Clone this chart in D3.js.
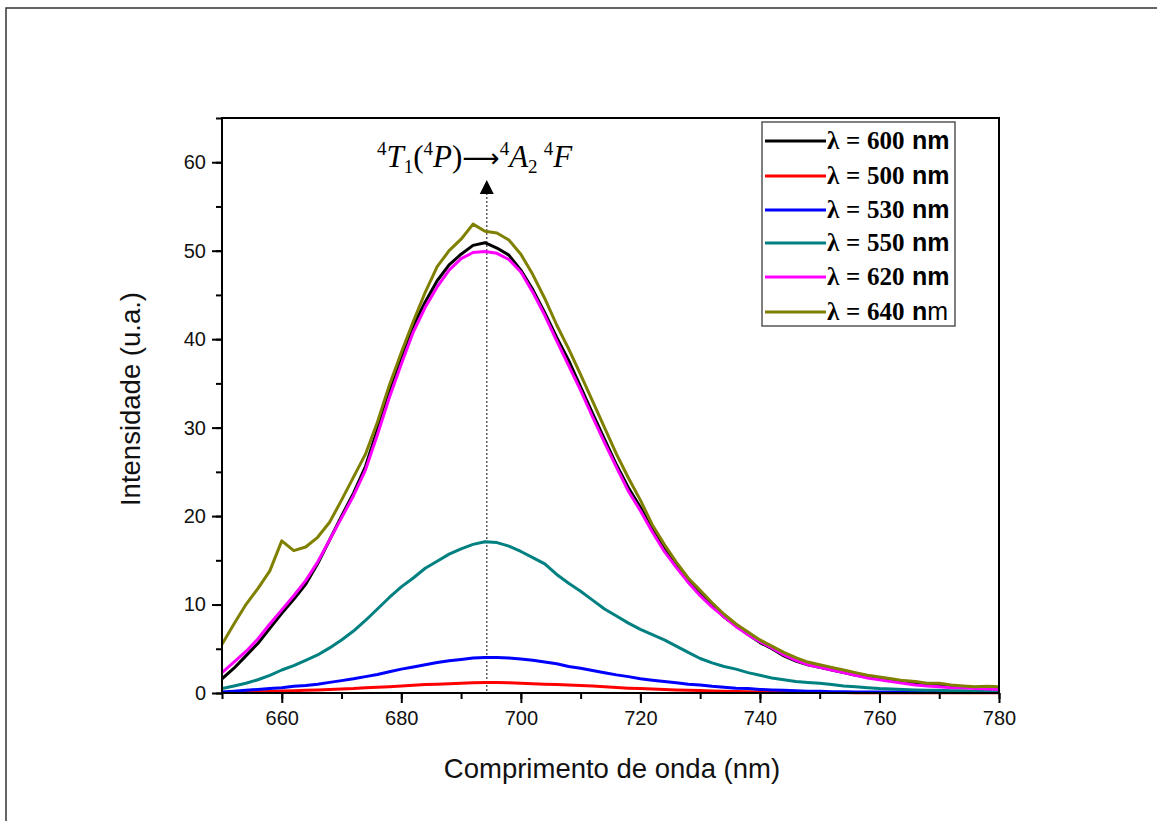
<!DOCTYPE html>
<html><head><meta charset="utf-8">
<script src="https://cdn.jsdelivr.net/npm/d3@7"></script>
<style>body{margin:0;background:#fff}svg{display:block}</style>
</head><body>
<svg id="c" width="1157" height="821"></svg>
<script>
const wavelengths = [650,652,654,656,658,660,662,664,666,668,670,672,674,676,678,680,682,684,686,688,690,692,694,696,698,700,702,704,706,708,710,712,714,716,718,720,722,724,726,728,730,732,734,736,738,740,742,744,746,748,750,752,754,756,758,760,762,764,766,768,770,772,774,776,778,780];

const s600 = [1.6,2.8,4.2,5.6,7.3,9.0,10.6,12.3,14.6,17.3,20.0,22.6,25.6,29.8,34.0,37.8,41.5,44.2,46.6,48.4,49.6,50.6,50.9,50.3,49.5,47.8,45.6,43.0,40.2,37.6,34.6,31.6,28.7,25.8,23.2,21.0,18.5,16.3,14.4,12.7,11.2,9.9,8.6,7.6,6.6,5.7,5.0,4.2,3.6,3.2,2.9,2.6,2.3,2.0,1.8,1.6,1.4,1.2,1.1,1.0,0.9,0.8,0.7,0.6,0.55,0.5];
const s500 = [0.05,0.1,0.12,0.15,0.18,0.22,0.26,0.3,0.35,0.4,0.45,0.5,0.58,0.65,0.72,0.8,0.88,0.95,1.0,1.05,1.1,1.15,1.18,1.2,1.15,1.1,1.05,1.0,0.95,0.9,0.85,0.78,0.7,0.62,0.55,0.5,0.45,0.4,0.35,0.3,0.27,0.24,0.2,0.17,0.14,0.12,0.1,0.09,0.08,0.07,0.06,0.05,0.05,0.04,0.04,0.03,0.03,0.03,0.03,0.02,0.02,0.02,0.02,0.02,0.02,0.02];
const s530 = [0.1,0.2,0.3,0.4,0.5,0.6,0.75,0.85,1.0,1.2,1.4,1.6,1.85,2.1,2.4,2.7,2.95,3.2,3.45,3.65,3.8,3.95,4.0,4.0,3.95,3.85,3.7,3.5,3.3,3.0,2.8,2.55,2.3,2.05,1.85,1.6,1.45,1.3,1.15,1.0,0.9,0.75,0.65,0.55,0.5,0.4,0.35,0.3,0.25,0.2,0.2,0.15,0.15,0.1,0.1,0.1,0.1,0.1,0.1,0.1,0.05,0.05,0.05,0.05,0.05,0.05];
const s550 = [0.5,0.8,1.1,1.5,2.0,2.6,3.1,3.7,4.3,5.1,6.0,7.0,8.2,9.5,10.8,12.0,13.0,14.1,14.9,15.7,16.3,16.8,17.1,17.0,16.6,16.0,15.3,14.6,13.4,12.4,11.5,10.5,9.5,8.7,7.9,7.2,6.6,6.0,5.3,4.6,3.9,3.4,3.0,2.7,2.3,2.0,1.7,1.5,1.3,1.2,1.1,0.95,0.8,0.7,0.6,0.5,0.45,0.4,0.35,0.3,0.3,0.25,0.25,0.2,0.2,0.2];
const s620 = [2.3,3.5,4.7,6.1,7.8,9.4,11.0,12.7,14.8,17.3,19.8,22.3,25.2,29.2,33.4,37.2,40.8,43.6,45.9,47.8,49.1,49.8,49.9,49.7,49.0,47.6,45.3,42.7,39.8,37.0,34.2,31.2,28.3,25.5,22.8,20.6,18.2,16.0,14.2,12.5,11.0,9.7,8.6,7.5,6.6,5.8,5.1,4.3,3.7,3.2,2.9,2.6,2.3,2.0,1.7,1.5,1.3,1.1,0.9,0.8,0.7,0.6,0.6,0.5,0.45,0.4];
const s640 = [5.5,7.8,10.0,11.8,13.8,17.2,16.1,16.5,17.6,19.3,21.8,24.4,27.0,30.6,34.8,38.5,42.0,45.3,48.2,50.0,51.3,53.0,52.2,52.0,51.2,49.6,47.3,44.6,41.6,38.9,36.0,33.0,30.0,27.0,24.3,21.8,19.0,16.8,14.8,13.0,11.6,10.2,8.9,7.8,6.9,6.0,5.3,4.6,4.0,3.5,3.2,2.9,2.6,2.3,2.0,1.8,1.6,1.4,1.3,1.1,1.1,0.9,0.8,0.7,0.75,0.7];

const seriesNames = ["600","500","530","550","620","640"];
const seriesValues = [s600,s500,s530,s550,s620,s640];
const seriesColors = ["#000000","#ff0000","#0000ff","#008080","#ff00ff","#808000"];

const xTickValues = [660,680,700,720,740,760,780];
const yTickValues = [0,10,20,30,40,50,60];
const markerWavelength = 694.3;

const svg = d3.select("#c");
const L = 222, R = 999, T = 118, B = 693;

// outer frame
svg.append("rect").attr("x",6).attr("y",8).attr("width",1170).attr("height",840)
  .attr("fill","none").attr("stroke","#333").attr("stroke-width",1.5);

const x = d3.scaleLinear().domain([650,780]).range([L,R]);
const y = d3.scaleLinear().domain([0,65]).range([B,T]);

// dotted marker line + arrow head
svg.append("line").attr("x1",x(markerWavelength)).attr("x2",x(markerWavelength))
  .attr("y1",193).attr("y2",B).attr("stroke","#444").attr("stroke-width",1.3)
  .attr("stroke-dasharray","2,2");
svg.append("path")
  .attr("d",`M${x(markerWavelength)},180 L${x(markerWavelength)-7},194 L${x(markerWavelength)+7},194 Z`)
  .attr("fill","#000");

// curves
const line = d3.line().x((d,i)=>x(wavelengths[i])).y(d=>y(d));
svg.append("clipPath").attr("id","clip").append("rect")
  .attr("x",L).attr("y",T).attr("width",R-L).attr("height",B-T+2);
seriesValues.forEach((vals,k)=>{
  svg.append("path").datum(vals).attr("d",line)
    .attr("fill","none").attr("stroke",seriesColors[k]).attr("stroke-width",3)
    .attr("stroke-linejoin","round").attr("clip-path","url(#clip)");
});

// axes
const fontTick = "'Liberation Sans', Arial, sans-serif";
const xAxis = d3.axisBottom(x).tickValues(xTickValues).tickSize(10).tickPadding(8).tickFormat(d3.format("d"));
const xMinor = d3.axisBottom(x).tickValues(d3.range(650,781,10)).tickSize(6).tickFormat("");
const yAxis = d3.axisLeft(y).tickValues(yTickValues).tickSize(10).tickPadding(6).tickFormat(d3.format("d"));
const yMinor = d3.axisLeft(y).tickValues(d3.range(0,66,5)).tickSize(6).tickFormat("");

function styleAxis(g){
  g.select(".domain").remove();
  g.selectAll(".tick line").attr("stroke","#000").attr("stroke-width",2);
  g.selectAll(".tick text").attr("font-family",fontTick).attr("font-size",20).attr("fill","#111");
}
svg.append("g").attr("transform",`translate(0,${B})`).call(xMinor).call(styleAxis);
svg.append("g").attr("transform",`translate(0,${B})`).call(xAxis).call(styleAxis);
svg.append("g").attr("transform",`translate(${L},0)`).call(yMinor).call(styleAxis);
svg.append("g").attr("transform",`translate(${L},0)`).call(yAxis).call(styleAxis);

// plot box
svg.append("rect").attr("x",L).attr("y",T).attr("width",R-L).attr("height",B-T)
  .attr("fill","none").attr("stroke","#000").attr("stroke-width",2);

// axis titles
svg.append("text").attr("x",612).attr("y",778).attr("text-anchor","middle")
  .attr("font-family",fontTick).attr("font-size",27.5).attr("fill","#111")
  .text("Comprimento de onda (nm)");
svg.append("text").attr("transform",`translate(140,399) rotate(-90)`).attr("text-anchor","middle")
  .attr("font-family",fontTick).attr("font-size",27.5).attr("fill","#111")
  .text("Intensidade (u.a.)");

// annotation
const serif = "'Liberation Serif','Times New Roman',serif";
const ann = svg.append("text").attr("x",377).attr("y",167)
  .attr("font-family",serif).attr("font-size",31).attr("fill","#000");
const big = 31, small = 19;
const parts = [
  ["4",small,-12,false],["T",big,12,true],["1",small,6,false],["(",big,-6,false],
  ["4",small,-12,false],["P",big,12,true],[")",big,0,false],["\u27F6",26,0,false,"'DejaVu Sans',sans-serif"],
  ["4",small,-12,false],["A",big,12,true],["2",small,6,false],["\u2009",big,0,false],["4",small,-18,false],["F",big,12,true]
];
parts.forEach(p=>{
  const ts = ann.append("tspan").text(p[0]).attr("font-size",p[1]).attr("dy",p[2])
    .attr("font-style",p[3]?"italic":"normal");
  if (p[4]) ts.attr("font-family",p[4]);
});

// legend
const lg = svg.append("g");
lg.append("rect").attr("x",762).attr("y",122).attr("width",193).attr("height",204)
  .attr("fill","#fff").attr("stroke","#555").attr("stroke-width",1.5);
const legendY = [141,176,210,243,277,312];
seriesNames.forEach((nm,k)=>{
  const yy = legendY[k];
  lg.append("line").attr("x1",765).attr("x2",826).attr("y1",yy).attr("y2",yy)
    .attr("stroke",seriesColors[k]).attr("stroke-width",3);
  const t = lg.append("text").attr("y",yy+8).attr("font-size",25).attr("fill","#000");
  t.append("tspan").attr("x",827).attr("font-family",serif).attr("font-weight","bold").text("\u03bb");
  t.append("tspan").attr("x",846).attr("font-family",serif).attr("font-weight","bold").text("=");
  t.append("tspan").attr("x",867).attr("font-family",serif).attr("font-weight","bold").text(nm);
  if (k === 5) {
    t.append("tspan").attr("x",912).attr("font-family",fontTick).attr("font-weight","bold").text("n");
    t.append("tspan").attr("font-family",fontTick).attr("font-weight","normal").text("m");
  } else {
    t.append("tspan").attr("x",912).attr("font-family",fontTick).attr("font-weight","bold").text("nm");
  }
});
</script>
</body></html>
